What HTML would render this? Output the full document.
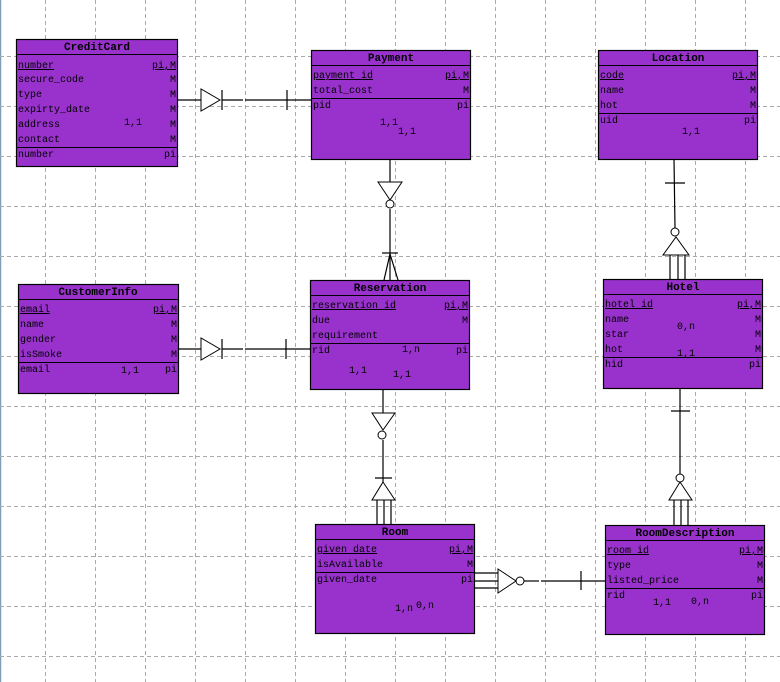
<!DOCTYPE html>
<html><head><meta charset="utf-8"><style>
html,body{margin:0;padding:0;background:#fff;}
svg{display:block;}
text{font-family:"Liberation Mono",monospace;font-size:10px;fill:#000;}
.h{font-weight:bold;font-size:11px;}
.l{stroke:#000;stroke-width:1.2;fill:none;}
.t{stroke:#000;stroke-width:1;fill:#fff;}
</style></head><body>
<svg width="780" height="682" viewBox="0 0 780 682" xmlns="http://www.w3.org/2000/svg">
<rect x="0" y="0" width="780" height="682" fill="#fff"/>
<line x1="0.5" y1="0" x2="0.5" y2="682" stroke="#7f9db9" stroke-width="1.5"/>
<g stroke="#aaa" stroke-width="1" stroke-dasharray="4,3">
<line x1="45.5" y1="0" x2="45.5" y2="682"/><line x1="95.5" y1="0" x2="95.5" y2="682"/><line x1="145.5" y1="0" x2="145.5" y2="682"/><line x1="195.5" y1="0" x2="195.5" y2="682"/><line x1="245.5" y1="0" x2="245.5" y2="682"/><line x1="295.5" y1="0" x2="295.5" y2="682"/><line x1="345.5" y1="0" x2="345.5" y2="682"/><line x1="395.5" y1="0" x2="395.5" y2="682"/><line x1="445.5" y1="0" x2="445.5" y2="682"/><line x1="495.5" y1="0" x2="495.5" y2="682"/><line x1="545.5" y1="0" x2="545.5" y2="682"/><line x1="595.5" y1="0" x2="595.5" y2="682"/><line x1="645.5" y1="0" x2="645.5" y2="682"/><line x1="695.5" y1="0" x2="695.5" y2="682"/><line x1="745.5" y1="0" x2="745.5" y2="682"/>
<line x1="0" y1="56.5" x2="780" y2="56.5"/><line x1="0" y1="106.5" x2="780" y2="106.5"/><line x1="0" y1="156.5" x2="780" y2="156.5"/><line x1="0" y1="206.5" x2="780" y2="206.5"/><line x1="0" y1="256.5" x2="780" y2="256.5"/><line x1="0" y1="306.5" x2="780" y2="306.5"/><line x1="0" y1="356.5" x2="780" y2="356.5"/><line x1="0" y1="406.5" x2="780" y2="406.5"/><line x1="0" y1="456.5" x2="780" y2="456.5"/><line x1="0" y1="506.5" x2="780" y2="506.5"/><line x1="0" y1="556.5" x2="780" y2="556.5"/><line x1="0" y1="606.5" x2="780" y2="606.5"/><line x1="0" y1="656.5" x2="780" y2="656.5"/>
</g>

<!-- connectors -->
<g class="l">
<!-- CC-Payment -->
<line x1="178" y1="100" x2="201" y2="100"/><line x1="222" y1="100" x2="243" y2="100"/><line x1="245" y1="100" x2="311" y2="100"/>
<line x1="222" y1="90" x2="222" y2="110"/><line x1="287" y1="90" x2="287" y2="110"/>
<!-- CI-Res -->
<line x1="178" y1="349" x2="201" y2="349"/><line x1="222" y1="349" x2="243" y2="349"/><line x1="245" y1="349" x2="310" y2="349"/>
<line x1="222" y1="339" x2="222" y2="359"/><line x1="286" y1="339" x2="286" y2="359"/>
<!-- Pay-Res -->
<line x1="390" y1="159" x2="390" y2="182"/><line x1="390" y1="209" x2="390" y2="280"/>
<line x1="382" y1="253" x2="398" y2="253"/>
<line x1="390" y1="254" x2="384" y2="280"/><line x1="390" y1="254" x2="398" y2="280"/>
<!-- Loc-Hotel -->
<line x1="674" y1="159" x2="675" y2="228"/><line x1="665" y1="183" x2="685" y2="183"/>
<line x1="670" y1="255" x2="670" y2="279"/><line x1="678" y1="255" x2="678" y2="279"/><line x1="685" y1="255" x2="685" y2="279"/>
<!-- Res-Room -->
<line x1="383" y1="389" x2="383" y2="413"/><line x1="383" y1="440" x2="383" y2="482"/>
<line x1="375" y1="478" x2="392" y2="478"/>
<line x1="377" y1="500" x2="377" y2="524"/><line x1="384" y1="500" x2="384" y2="524"/><line x1="391" y1="500" x2="391" y2="524"/>
<!-- Hotel-RD -->
<line x1="680" y1="388" x2="680" y2="474"/><line x1="671" y1="411" x2="690" y2="411"/>
<line x1="674" y1="500" x2="674" y2="525"/><line x1="681" y1="500" x2="681" y2="525"/><line x1="688" y1="500" x2="688" y2="525"/>
<!-- Room-RD -->
<line x1="474" y1="573" x2="498" y2="573"/><line x1="474" y1="581" x2="498" y2="581"/><line x1="474" y1="588" x2="498" y2="588"/>
<line x1="524" y1="581" x2="539" y2="581"/><line x1="541" y1="581" x2="605" y2="581"/>
<line x1="581" y1="571" x2="581" y2="590"/>
</g>
<g class="t">
<polygon points="201,89 201,111 220,100"/>
<polygon points="201,338 201,360 220,349"/>
<polygon points="378,182 402,182 390,200"/><circle cx="390" cy="204" r="4"/>
<polygon points="663,255 689,255 676,237"/><circle cx="675" cy="232" r="4"/>
<polygon points="372,413 395,413 383,430"/><circle cx="382" cy="435" r="4"/>
<polygon points="372,500 395,500 383,482"/>
<polygon points="669,500 692,500 680,482"/><circle cx="680" cy="478" r="4"/>
<polygon points="498,569 498,593 516,581"/><circle cx="520" cy="581" r="4"/>
</g>

<!-- entities -->
<g stroke="#000" stroke-width="1.2" fill="#9932cc">
<rect x="16.5" y="39.5" width="161" height="127"/>
<rect x="311.5" y="50.5" width="159" height="109"/>
<rect x="598.5" y="50.5" width="159" height="109"/>
<rect x="18.5" y="284.5" width="160" height="109"/>
<rect x="310.5" y="280.5" width="159" height="109"/>
<rect x="603.5" y="279.5" width="159" height="109"/>
<rect x="315.5" y="524.5" width="159" height="109"/>
<rect x="605.5" y="525.5" width="159" height="109"/>
</g>
<g stroke="#000" stroke-width="1">
<line x1="16" y1="54.5" x2="178" y2="54.5"/><line x1="16" y1="147.5" x2="178" y2="147.5"/>
<line x1="311" y1="65.5" x2="471" y2="65.5"/><line x1="311" y1="98.5" x2="471" y2="98.5"/>
<line x1="598" y1="65.5" x2="758" y2="65.5"/><line x1="598" y1="113.5" x2="758" y2="113.5"/>
<line x1="18" y1="299.5" x2="179" y2="299.5"/><line x1="18" y1="362.5" x2="179" y2="362.5"/>
<line x1="310" y1="295.5" x2="470" y2="295.5"/><line x1="310" y1="343.5" x2="470" y2="343.5"/>
<line x1="603" y1="294.5" x2="763" y2="294.5"/><line x1="603" y1="357.5" x2="763" y2="357.5"/>
<line x1="315" y1="539.5" x2="475" y2="539.5"/><line x1="315" y1="572.5" x2="475" y2="572.5"/>
<line x1="605" y1="540.5" x2="765" y2="540.5"/><line x1="605" y1="588.5" x2="765" y2="588.5"/>
</g>

<!-- CreditCard -->
<text class="h" x="97" y="50" text-anchor="middle">CreditCard</text>
<text x="18" y="68" text-decoration="underline">number</text><text x="176" y="68" text-anchor="end" text-decoration="underline">pi,M</text>
<text x="18" y="82">secure_code</text><text x="176" y="82" text-anchor="end">M</text>
<text x="18" y="97">type</text><text x="176" y="97" text-anchor="end">M</text>
<text x="18" y="112">expirty_date</text><text x="176" y="112" text-anchor="end">M</text>
<text x="18" y="127">address</text><text x="124" y="125">1,1</text><text x="176" y="127" text-anchor="end">M</text>
<text x="18" y="142">contact</text><text x="176" y="142" text-anchor="end">M</text>
<text x="18" y="157">number</text><text x="176" y="157" text-anchor="end">pi</text>
<!-- Payment -->
<text class="h" x="391" y="61" text-anchor="middle">Payment</text>
<text x="313" y="78" text-decoration="underline">payment id</text><text x="469" y="78" text-anchor="end" text-decoration="underline">pi,M</text>
<text x="313" y="93">total_cost</text><text x="469" y="93" text-anchor="end">M</text>
<text x="313" y="108">pid</text><text x="469" y="108" text-anchor="end">pi</text>
<text x="380" y="125">1,1</text><text x="398" y="134">1,1</text>
<!-- Location -->
<text class="h" x="678" y="61" text-anchor="middle">Location</text>
<text x="600" y="78" text-decoration="underline">code</text><text x="756" y="78" text-anchor="end" text-decoration="underline">pi,M</text>
<text x="600" y="93">name</text><text x="756" y="93" text-anchor="end">M</text>
<text x="600" y="108">hot</text><text x="756" y="108" text-anchor="end">M</text>
<text x="600" y="123">uid</text><text x="756" y="123" text-anchor="end">pi</text>
<text x="682" y="134">1,1</text>
<!-- CustomerInfo -->
<text class="h" x="98" y="295" text-anchor="middle">CustomerInfo</text>
<text x="20" y="312" text-decoration="underline">email</text><text x="177" y="312" text-anchor="end" text-decoration="underline">pi,M</text>
<text x="20" y="327">name</text><text x="177" y="327" text-anchor="end">M</text>
<text x="20" y="342">gender</text><text x="177" y="342" text-anchor="end">M</text>
<text x="20" y="357">isSmoke</text><text x="177" y="357" text-anchor="end">M</text>
<text x="20" y="372">email</text><text x="121" y="373">1,1</text><text x="177" y="372" text-anchor="end">pi</text>
<!-- Reservation -->
<text class="h" x="390" y="291" text-anchor="middle">Reservation</text>
<text x="312" y="308" text-decoration="underline">reservation id</text><text x="468" y="308" text-anchor="end" text-decoration="underline">pi,M</text>
<text x="312" y="323">due</text><text x="468" y="323" text-anchor="end">M</text>
<text x="312" y="338">requirement</text>
<text x="312" y="353">rid</text><text x="402" y="352">1,n</text><text x="468" y="353" text-anchor="end">pi</text>
<text x="349" y="373">1,1</text><text x="393" y="377">1,1</text>
<!-- Hotel -->
<text class="h" x="683" y="290" text-anchor="middle">Hotel</text>
<text x="605" y="307" text-decoration="underline">hotel id</text><text x="761" y="307" text-anchor="end" text-decoration="underline">pi,M</text>
<text x="605" y="322">name</text><text x="761" y="322" text-anchor="end">M</text>
<text x="605" y="337">star</text><text x="761" y="337" text-anchor="end">M</text>
<text x="605" y="352">hot</text><text x="761" y="352" text-anchor="end">M</text>
<text x="605" y="367">hid</text><text x="761" y="367" text-anchor="end">pi</text>
<text x="677" y="329">0,n</text><text x="677" y="356">1,1</text>
<!-- Room -->
<text class="h" x="395" y="535" text-anchor="middle">Room</text>
<text x="317" y="552" text-decoration="underline">given date</text><text x="473" y="552" text-anchor="end" text-decoration="underline">pi,M</text>
<text x="317" y="567">isAvailable</text><text x="473" y="567" text-anchor="end">M</text>
<text x="317" y="582">given_date</text><text x="473" y="582" text-anchor="end">pi</text>
<text x="395" y="611">1,n</text><text x="416" y="608">0,n</text>
<!-- RoomDescription -->
<text class="h" x="685" y="536" text-anchor="middle">RoomDescription</text>
<text x="607" y="553" text-decoration="underline">room id</text><text x="763" y="553" text-anchor="end" text-decoration="underline">pi,M</text>
<text x="607" y="568">type</text><text x="763" y="568" text-anchor="end">M</text>
<text x="607" y="583">listed_price</text><text x="763" y="583" text-anchor="end">M</text>
<text x="607" y="598">rid</text><text x="763" y="598" text-anchor="end">pi</text>
<text x="653" y="605">1,1</text><text x="691" y="604">0,n</text>
</svg>
</body></html>
